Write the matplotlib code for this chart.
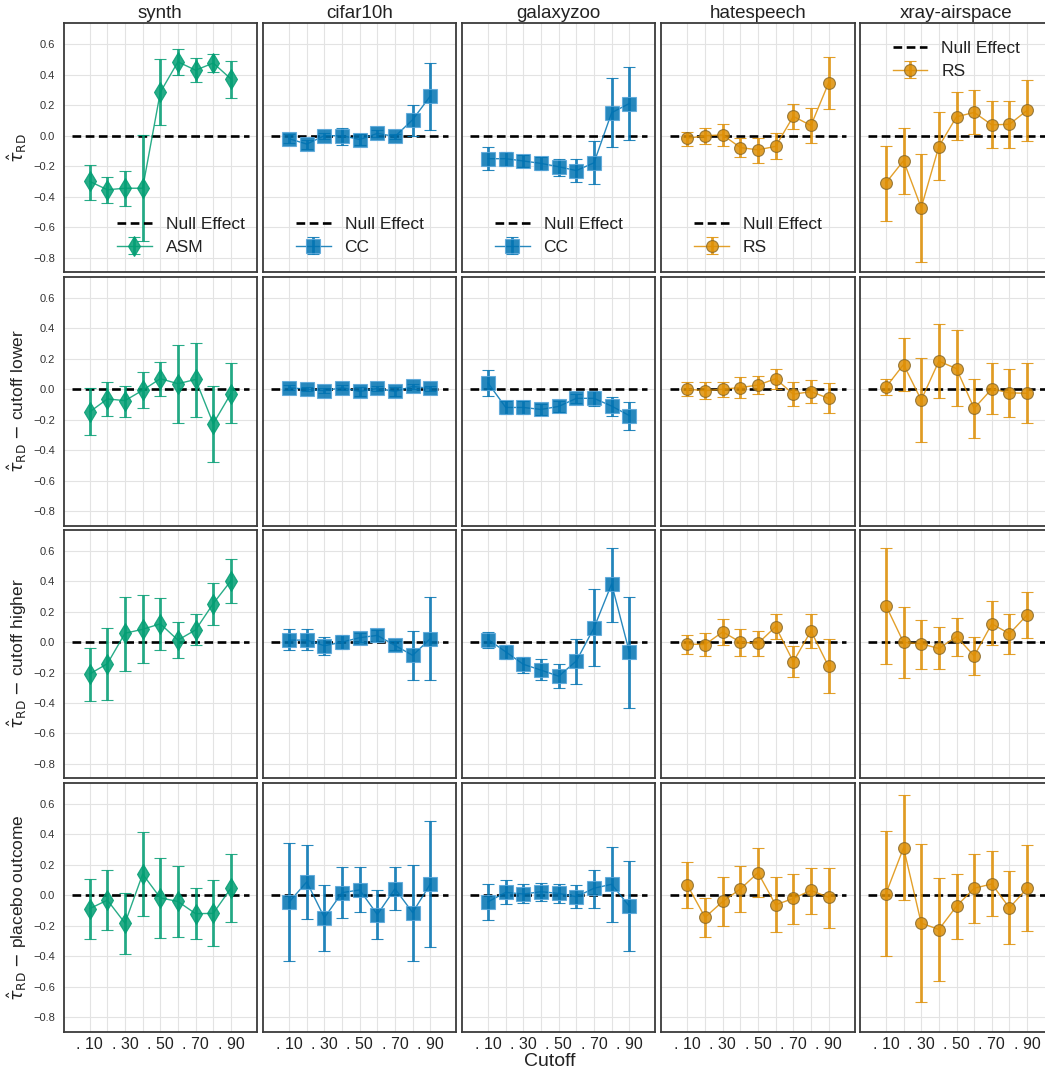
import numpy as np
import matplotlib
matplotlib.use("Agg")
import matplotlib.pyplot as plt

plt.rcParams['font.family'] = ['Liberation Sans', 'DejaVu Sans']
plt.rcParams['mathtext.fontset'] = 'dejavusans'

cutoffs = [0.1, 0.2, 0.3, 0.4, 0.5, 0.6, 0.7, 0.8, 0.9]
xtick_labels = ['. 10', '', '. 30', '', '. 50', '', '. 70', '', '. 90']
datasets = ['synth', 'cifar10h', 'galaxyzoo', 'hatespeech', 'xray-airspace']
methods = ['ASM', 'CC', 'CC', 'RS', 'RS']
row_labels = [r'$\hat{\tau}_{\mathrm{RD}}$',
              r'$\hat{\tau}_{\mathrm{RD}}$ $-$ cutoff lower',
              r'$\hat{\tau}_{\mathrm{RD}}$ $-$ cutoff higher',
              r'$\hat{\tau}_{\mathrm{RD}}$ $-$ placebo outcome']

# rows: tau_RD, cutoff lower, cutoff higher, placebo outcome
synth_est = [[-0.30, -0.355, -0.345, -0.345, 0.285, 0.485, 0.43, 0.477, 0.373],
             [-0.149, -0.064, -0.075, -0.007, 0.069, 0.036, 0.064, -0.226, -0.029],
             [-0.209, -0.142, 0.058, 0.084, 0.12, 0.013, 0.08, 0.253, 0.402],
             [-0.087, -0.031, -0.182, 0.14, -0.016, -0.04, -0.12, -0.118, 0.047]]
synth_lo = [[-0.42, -0.44, -0.46, -0.69, 0.07, 0.40, 0.35, 0.42, 0.25],
            [-0.304, -0.173, -0.18, -0.126, -0.042, -0.224, -0.184, -0.48, -0.224],
            [-0.386, -0.377, -0.193, -0.138, -0.053, -0.102, -0.022, 0.111, 0.257],
            [-0.289, -0.229, -0.382, -0.133, -0.277, -0.273, -0.289, -0.333, -0.173]]
synth_hi = [[-0.19, -0.27, -0.23, 0.005, 0.505, 0.57, 0.51, 0.537, 0.49],
            [0.007, 0.047, 0.024, 0.113, 0.18, 0.29, 0.306, 0.024, 0.175],
            [-0.036, 0.091, 0.297, 0.311, 0.29, 0.131, 0.186, 0.39, 0.546],
            [0.109, 0.169, 0.013, 0.417, 0.246, 0.195, 0.049, 0.1, 0.269]]

cifar_est = [[-0.02, -0.055, 0.0, 0.0, -0.025, 0.015, -0.005, 0.105, 0.26],
             [0.01, 0.0, -0.01, 0.01, -0.015, 0.005, -0.015, 0.018, 0.005],
             [0.013, 0.013, -0.024, 0.0, 0.029, 0.044, -0.022, -0.087, 0.022],
             [-0.044, 0.089, -0.146, 0.018, 0.036, -0.126, 0.044, -0.113, 0.075]]
cifar_lo = [[-0.05, -0.085, -0.02, -0.06, -0.06, -0.01, -0.02, 0.0, 0.035],
            [-0.005, -0.015, -0.025, -0.005, -0.045, -0.01, -0.045, 0.003, -0.01],
            [-0.053, -0.053, -0.084, -0.044, 0.0, 0.002, -0.05, -0.249, -0.249],
            [-0.431, -0.155, -0.364, -0.146, -0.111, -0.289, -0.098, -0.431, -0.342]]
cifar_hi = [[0.01, -0.025, 0.02, 0.05, 0.01, 0.04, 0.01, 0.2, 0.48],
            [0.025, 0.015, 0.005, 0.025, 0.015, 0.02, 0.015, 0.033, 0.02],
            [0.084, 0.084, 0.036, 0.047, 0.058, 0.078, 0.006, 0.073, 0.295],
            [0.344, 0.333, 0.067, 0.186, 0.186, 0.036, 0.186, 0.2, 0.488]]

galaxy_est = [[-0.151, -0.151, -0.166, -0.182, -0.204, -0.229, -0.178, 0.151, 0.211],
              [0.04, -0.12, -0.12, -0.133, -0.113, -0.06, -0.06, -0.111, -0.173],
              [0.016, -0.064, -0.146, -0.184, -0.224, -0.124, 0.093, 0.382, -0.064],
              [-0.042, 0.02, 0.009, 0.024, 0.013, -0.009, 0.047, 0.073, -0.071]]
galaxy_lo = [[-0.226, -0.2, -0.204, -0.222, -0.262, -0.304, -0.32, -0.075, -0.029],
             [-0.047, -0.164, -0.16, -0.169, -0.151, -0.093, -0.111, -0.175, -0.271],
             [-0.04, -0.113, -0.2, -0.251, -0.304, -0.273, -0.158, 0.129, -0.43],
             [-0.16, -0.058, -0.053, -0.04, -0.053, -0.08, -0.082, -0.175, -0.364]]
galaxy_hi = [[-0.073, -0.107, -0.129, -0.14, -0.155, -0.155, -0.038, 0.377, 0.453],
             [0.129, -0.08, -0.08, -0.098, -0.075, -0.031, -0.009, -0.049, -0.082],
             [0.067, -0.018, -0.095, -0.113, -0.144, 0.02, 0.346, 0.617, 0.297],
             [0.075, 0.098, 0.075, 0.084, 0.075, 0.069, 0.169, 0.32, 0.224]]

hate_est = [[-0.018, 0.0, 0.005, -0.078, -0.093, -0.07, 0.127, 0.067, 0.346],
            [0.0, -0.01, 0.0, 0.011, 0.027, 0.069, -0.033, -0.016, -0.06],
            [-0.013, -0.016, 0.067, 0.0, -0.009, 0.102, -0.129, 0.073, -0.16],
            [0.067, -0.144, -0.04, 0.042, 0.149, -0.062, -0.02, 0.033, -0.013]]
hate_lo = [[-0.067, -0.055, -0.067, -0.137, -0.178, -0.155, 0.045, -0.05, 0.178],
           [-0.047, -0.064, -0.05, -0.06, -0.03, 0.0, -0.109, -0.093, -0.158],
           [-0.075, -0.093, -0.02, -0.089, -0.093, 0.018, -0.226, -0.04, -0.335],
           [-0.08, -0.275, -0.202, -0.111, -0.013, -0.24, -0.186, -0.12, -0.211]]
hate_hi = [[0.027, 0.05, 0.075, -0.018, -0.016, 0.015, 0.21, 0.18, 0.515],
           [0.05, 0.047, 0.05, 0.082, 0.087, 0.135, 0.047, 0.062, 0.038],
           [0.047, 0.062, 0.151, 0.089, 0.073, 0.186, -0.027, 0.182, 0.02],
           [0.217, -0.016, 0.124, 0.195, 0.313, 0.118, 0.142, 0.182, 0.18]]

xray_est = [[-0.31, -0.164, -0.473, -0.071, 0.124, 0.153, 0.071, 0.075, 0.166],
            [0.013, 0.162, -0.071, 0.184, 0.135, -0.126, 0.002, -0.024, -0.027],
            [0.24, -0.002, -0.011, -0.042, 0.036, -0.091, 0.12, 0.055, 0.178],
            [0.011, 0.313, -0.182, -0.224, -0.071, 0.047, 0.075, -0.082, 0.047]]
xray_lo = [[-0.557, -0.38, -0.83, -0.29, -0.03, 0.013, -0.08, -0.08, -0.035],
           [-0.036, -0.013, -0.348, -0.06, -0.113, -0.322, -0.162, -0.182, -0.22],
           [-0.142, -0.235, -0.175, -0.178, -0.089, -0.213, -0.022, -0.08, 0.029],
           [-0.399, -0.031, -0.697, -0.564, -0.289, -0.18, -0.138, -0.32, -0.233]]
xray_hi = [[-0.067, 0.053, -0.118, 0.155, 0.286, 0.3, 0.226, 0.23, 0.368],
           [0.064, 0.335, 0.206, 0.428, 0.386, 0.069, 0.169, 0.135, 0.169],
           [0.621, 0.231, 0.146, 0.098, 0.155, 0.036, 0.269, 0.186, 0.328],
           [0.422, 0.661, 0.335, 0.115, 0.142, 0.271, 0.291, 0.158, 0.328]]

all_est = [synth_est, cifar_est, galaxy_est, hate_est, xray_est]
all_lo = [synth_lo, cifar_lo, galaxy_lo, hate_lo, xray_lo]
all_hi = [synth_hi, cifar_hi, galaxy_hi, hate_hi, xray_hi]

colors = ['#029e73', '#0173b2', '#0173b2', '#de8f05', '#de8f05']
markers = ['d', 's', 's', 'o', 'o']
msizes = [10.5, 9.5, 9.5, 8.5, 8.5]
mecs = ['#029e73', '#5aa7da', '#5aa7da', '#8a6a2a', '#8a6a2a']
legend_locs = ['lower right', 'lower center', 'lower center', 'lower center', 'upper center']
legend_anchor = [(1.025, 0.0), (0.5, 0.0), (0.5, 0.0), (0.5, 0.0), (0.5, 1.0)]

W, H = 1045, 1074
fig = plt.figure(figsize=(W / 100, H / 100), dpi=100)

col_left = [63.6, 263.0, 462.0, 661.3, 859.8]
col_w = 193.4
row_top = [23.3, 276.8, 529.7, 783.0]
row_h = 248.7

for r in range(4):
    for c in range(5):
        ax = fig.add_axes([col_left[c] / W, 1 - (row_top[r] + row_h) / H, col_w / W, row_h / H])
        ax.set_xlim(-0.048, 1.048)
        ax.set_ylim(-0.895, 0.738)
        ax.set_xticks(cutoffs)
        ax.set_yticks(np.round(np.arange(-0.8, 0.61, 0.2), 1))
        ax.grid(True, color='#e3e3e3', lw=0.8)
        ax.set_axisbelow(True)
        ax.tick_params(length=0)
        for s in ax.spines.values():
            s.set_color('#3a3a3a')
            s.set_linewidth(1.3)
        if r == 3:
            ax.set_xticklabels(xtick_labels, fontsize=11.5, color='#222222')
            ax.tick_params(axis='x', pad=4)
        else:
            ax.set_xticklabels([])
        if c == 0:
            ax.tick_params(axis='y', labelsize=8, labelcolor='#333333', pad=6)
            ax.set_ylabel(row_labels[r], fontsize=12.5, color='#222222', labelpad=3)
        else:
            ax.set_yticklabels([])
        if r == 0:
            ax.set_title(datasets[c], fontsize=13.5, color='#222222', pad=4)

        est = np.array(all_est[c][r])
        lo = np.array(all_lo[c][r])
        hi = np.array(all_hi[c][r])
        ax.plot([0, 1], [0, 0], color='black', ls=(0, (3.3, 1.7)), lw=1.9,
                label='Null Effect', zorder=2)
        ax.errorbar(cutoffs, est, yerr=[est - lo, hi - est], fmt=markers[c] + '-',
                    color=colors[c], lw=1.0, elinewidth=2.0, capsize=4.5, capthick=2.6,
                    ms=msizes[c], mec=mecs[c], mew=0.8, alpha=0.85,
                    label=methods[c], zorder=3)
        if r == 0:
            leg = ax.legend(loc=legend_locs[c], bbox_to_anchor=legend_anchor[c],
                            frameon=False, fontsize=12.5,
                            handlelength=2.0, handletextpad=0.8, labelspacing=0.45,
                            borderaxespad=0.6)
            for t in leg.get_texts():
                t.set_color('#222222')

fig.text(550 / W, 1 - 1061 / H, 'Cutoff', ha='center', va='center', fontsize=14,
         color='#222222')

fig.savefig('out.png', dpi=100)
